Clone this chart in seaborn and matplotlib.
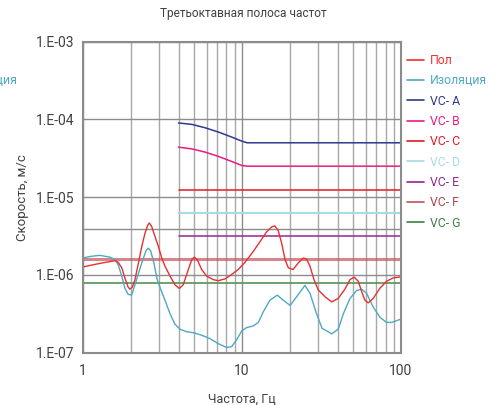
import matplotlib
matplotlib.use("Agg")
import matplotlib.pyplot as plt
import matplotlib.ticker as mticker
from matplotlib.lines import Line2D
import seaborn as sns
import pandas as pd

# ---------------- data (velocities in µm/s, frequencies in Hz) ----------------
pol_f = [1.0, 1.17, 1.35, 1.60, 1.67, 1.76, 1.84, 1.93, 1.98, 2.05, 2.13, 2.24, 2.35, 2.46,
         2.56, 2.62, 2.71, 2.85, 2.99, 3.14, 3.29, 3.54, 3.80, 4.05, 4.28, 4.61, 4.84, 5.02,
         5.25, 5.59, 6.01, 6.61, 7.11, 7.83, 8.63, 9.49, 10.5, 11.8, 13.0, 14.3, 15.4, 16.1,
         16.9, 17.8, 18.7, 19.6, 21.0, 22.6, 24.3, 25.5, 26.8, 28.4, 30.2, 33.3, 36.7, 40.3,
         44.4, 47.8, 50.8, 53.9, 56.6, 59.3, 62.2, 66.9, 73.7, 81.2, 89.3, 100]
pol_v = [1.26, 1.35, 1.43, 1.52, 1.45, 1.23, 0.913, 0.694, 0.653, 0.694, 0.866, 1.42, 2.31, 3.40,
         4.33, 4.65, 4.21, 3.09, 2.31, 1.64, 1.29, 0.961, 0.744, 0.667, 0.744, 1.17, 1.56, 1.69,
         1.56, 1.17, 0.961, 0.866, 0.840, 0.885, 1.01, 1.17, 1.46, 2.0, 2.67, 3.57, 4.13, 4.26,
         3.74, 2.54, 1.56, 1.23, 1.17, 1.42, 1.64, 1.59, 1.29, 0.866, 0.639, 0.522, 0.448, 0.496,
         0.653, 0.866, 0.932, 0.825, 0.608, 0.471, 0.435, 0.496, 0.673, 0.825, 0.913, 0.941]

iso_f = [1.0, 1.11, 1.28, 1.48, 1.60, 1.67, 1.76, 1.84, 1.93, 2.03, 2.18, 2.35, 2.50, 2.58,
         2.67, 2.80, 2.94, 3.09, 3.29, 3.54, 3.80, 4.09, 4.50, 4.95, 5.59, 6.30, 7.11, 8.03,
         8.63, 9.28, 9.97, 10.7, 11.8, 12.7, 13.6, 15.0, 16.7, 18.2, 20.1, 22.1, 24.9, 26.8,
         29.5, 31.9, 36.7, 40.3, 43.4, 47.8, 52.6, 56.6, 60.8, 66.9, 73.7, 81.2, 87.3, 100]
iso_v = [1.64, 1.72, 1.78, 1.69, 1.56, 1.35, 0.961, 0.673, 0.560, 0.548, 0.866, 1.42, 2.05, 2.20,
         2.05, 1.42, 0.866, 0.653, 0.471, 0.314, 0.231, 0.199, 0.185, 0.180, 0.167, 0.151, 0.130,
         0.116, 0.119, 0.146, 0.189, 0.209, 0.220, 0.244, 0.331, 0.471, 0.548, 0.471, 0.404,
         0.522, 0.731, 0.578, 0.314, 0.205, 0.174, 0.199, 0.314, 0.496, 0.627, 0.653, 0.578,
         0.385, 0.284, 0.244, 0.244, 0.269]

vc_ab_f = [4.0, 4.86, 5.89, 7.15, 8.66, 10.0, 10.8, 100]
vc_a_v = [90.0, 86.2, 77.9, 68.6, 59.1, 52.5, 50.0, 50.0]
vc_b_v = [43.9, 41.7, 37.9, 33.3, 28.7, 25.5, 25.0, 25.0]

vc_short_f = [4.0, 100]
vc_full_f = [1.0, 100]
vc_c_v = [12.5, 12.5]
vc_d_v = [6.25, 6.25]
vc_e_v = [3.12, 3.12]
vc_f_v = [1.58, 1.58]
vc_g_v = [0.78, 0.78]
ref_gray_v = [3.9, 3.9]

legend_labels = ["Пол", "Изоляция", "VC- A", "VC- B", "VC- C", "VC- D", "VC- E", "VC- F", "VC- G"]
line_colors = ["#e8302f", "#4fa8c4", "#2e3a8c", "#ec1a83", "#e31b23", "#a6dce3", "#92278f",
               "#c4525a", "#3f7f45"]
text_colors = ["#e8302f", "#4fa8c4", "#2e3a8c", "#ec1a83", "#e31b23", "#a6dce3", "#92278f",
               "#b0444a", "#3f7f45"]
y_ticks = [1e-7, 1e-6, 1e-5, 1e-4, 1e-3]
y_tick_labels = ["1.E-07", "1.E-06", "1.E-05", "1.E-04", "1.E-03"]
x_ticks = [1, 10, 100]
x_tick_labels = ["1", "10", "100"]

UM = 1e-6  # µm/s -> m/s


def frame(f, v):
    return pd.DataFrame({"f": f, "v": [x * UM for x in v]})


# ---------------- figure ----------------
sns.set_theme(style="white")
plt.rcParams["font.family"] = ["Roboto", "DejaVu Sans"]

fig = plt.figure(figsize=(4.97, 4.05), dpi=100)
ax = fig.add_axes([82.7 / 497, 1 - 352.5 / 405, (401 - 82.7) / 497, (352.5 - 41.7) / 405])
ax.set_xscale("log")
ax.set_yscale("log")
ax.set_xlim(1, 100)
ax.set_ylim(1e-7, 1e-3)

# grid
ax.xaxis.set_minor_locator(mticker.LogLocator(base=10, subs=range(2, 10)))
ax.grid(which="major", axis="both", color="#8c8c8c", lw=1.0, zorder=0)
ax.grid(which="minor", axis="x", color="#a8a8a8", lw=1.0, zorder=0)
ax.yaxis.set_minor_locator(mticker.NullLocator())
ax.set_axisbelow(True)

kw = dict(x="f", y="v", ax=ax, legend=False, sort=False)
sns.lineplot(data=frame(vc_full_f, ref_gray_v), color="#8c8c8c", lw=1.0, **kw)
sns.lineplot(data=frame(vc_full_f, vc_g_v), color="#5f9a63", lw=1.3, **kw)
sns.lineplot(data=frame(vc_full_f, vc_f_v), color=line_colors[7], lw=2.2, alpha=0.7, **kw)
sns.lineplot(data=frame(vc_short_f, vc_e_v), color=line_colors[6], lw=1.1, **kw)
sns.lineplot(data=frame(vc_short_f, vc_d_v), color=line_colors[5], lw=1.5, **kw)
sns.lineplot(data=frame(vc_short_f, vc_c_v), color=line_colors[4], lw=1.1, **kw)
sns.lineplot(data=frame(vc_ab_f, vc_b_v), color=line_colors[3], lw=1.1, **kw)
sns.lineplot(data=frame(vc_ab_f, vc_a_v), color=line_colors[2], lw=1.1, **kw)
sns.lineplot(data=frame(iso_f, iso_v), color=line_colors[1], lw=1.0, **kw)
sns.lineplot(data=frame(pol_f, pol_v), color=line_colors[0], lw=1.0, **kw)

# axes styling
for s in ax.spines.values():
    s.set_color("#8c8c8c")
    s.set_linewidth(1.5)
ax.set_xticks(x_ticks)
ax.set_xticklabels(x_tick_labels)
ax.set_yticks(y_ticks)
ax.set_yticklabels(y_tick_labels)
ax.tick_params(axis="both", which="both", length=0, labelsize=10, labelcolor="#404040")
ax.tick_params(axis="x", pad=8)
ax.tick_params(axis="y", pad=6)
ax.set_xlabel("Частота, Гц", fontsize=9, color="#404040", labelpad=11)
ax.set_ylabel("Скорость, м/с", fontsize=9.5, color="#404040", labelpad=5)
fig.text(0.49, 1 - 13 / 405, "Третьоктавная полоса частот", ha="center", va="center",
         fontsize=8.6, color="#404040")

# cropped text at far left
fig.text(18 / 497, 1 - 80 / 405, "Изоляция", ha="right", va="center", fontsize=9,
         color=line_colors[1])

handles = [Line2D([0], [0], color=c, lw=1.2) for c in line_colors]
leg = fig.legend(handles, legend_labels, loc="upper left",
                 bbox_to_anchor=(407 / 497, 1 - 54 / 405), frameon=False, fontsize=8.8,
                 handlelength=1.4, handletextpad=0.5, labelspacing=0.6, borderaxespad=0,
                 borderpad=0)
for t, c in zip(leg.get_texts(), text_colors):
    t.set_color(c)

fig.savefig("out.png", dpi=100)
